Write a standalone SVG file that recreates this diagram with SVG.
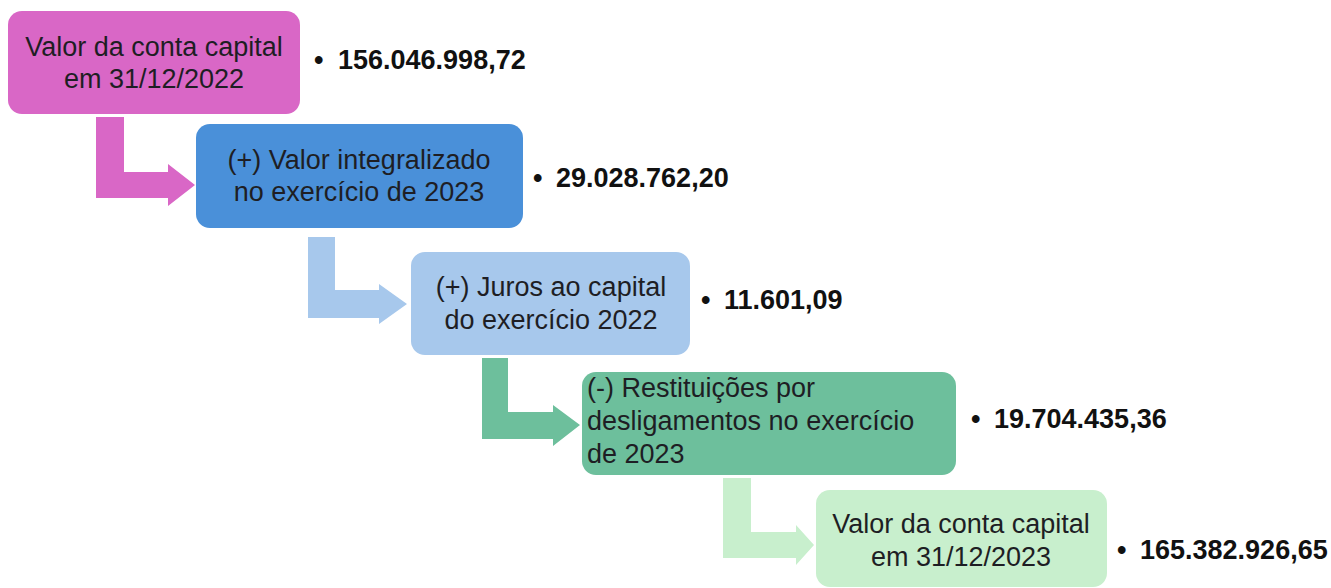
<svg xmlns="http://www.w3.org/2000/svg" width="1331" height="588" viewBox="0 0 1331 588">
<style>
.lbl{font-family:"Liberation Sans",Arial,sans-serif;font-size:27px;fill:#1e1e24;}
.c{text-anchor:middle;}
.val{font-family:"Liberation Sans",Arial,sans-serif;font-size:27px;font-weight:bold;fill:#111;}
</style>
<rect width="1331" height="588" fill="#ffffff"/>
<g id="connectors">
<polygon fill="#D967C6" points="96,117 124,117 124,172 168,172 168,164 195,185 168,206 168,198 96,198"/>
<polygon fill="#A7C8EC" points="308,237 335,237 335,290 379,290 379,284 407,304 379,324 379,318 308,318"/>
<polygon fill="#6DBF9C" points="482,358 508,358 508,412 553,412 553,405 580,425 553,446 553,439 482,439"/>
<polygon fill="#C8EFCD" points="723,478 751,478 751,532 796,532 796,525 814,545 796,565 796,558 723,558"/>
</g>
<g id="node1">
<rect x="8" y="11" width="292" height="103" rx="14" fill="#D967C6"/>
<text class="lbl c" x="154" y="56">Valor da conta capital</text>
<text class="lbl c" x="154" y="88">em 31/12/2022</text>
<text class="val" x="314" y="69">•<tspan x="338">156.046.998,72</tspan></text>
</g>
<g id="node2">
<rect x="196" y="124" width="327" height="104" rx="14" fill="#4A90D9"/>
<text class="lbl c" x="359" y="169">(+) Valor integralizado</text>
<text class="lbl c" x="359" y="201">no exercício de 2023</text>
<text class="val" x="533" y="187">•<tspan x="556">29.028.762,20</tspan></text>
</g>
<g id="node3">
<rect x="411" y="252" width="279" height="103" rx="14" fill="#A7C8EC"/>
<text class="lbl c" x="551" y="296">(+) Juros ao capital</text>
<text class="lbl c" x="551" y="329">do exercício 2022</text>
<text class="val" x="701" y="309">•<tspan x="724">11.601,09</tspan></text>
</g>
<g id="node4">
<rect x="582" y="372" width="374" height="103" rx="14" fill="#6DBF9C"/>
<text class="lbl" x="587" y="397">(-) Restituições por</text>
<text class="lbl" x="587" y="430">desligamentos no exercício</text>
<text class="lbl" x="587" y="463">de 2023</text>
<text class="val" x="971" y="428">•<tspan x="994">19.704.435,36</tspan></text>
</g>
<g id="node5">
<rect x="816" y="490" width="291" height="97" rx="14" fill="#C8EFCD"/>
<text class="lbl c" x="961" y="533">Valor da conta capital</text>
<text class="lbl c" x="961" y="566">em 31/12/2023</text>
<text class="val" x="1117" y="559">•<tspan x="1140">165.382.926,65</tspan></text>
</g>
</svg>
